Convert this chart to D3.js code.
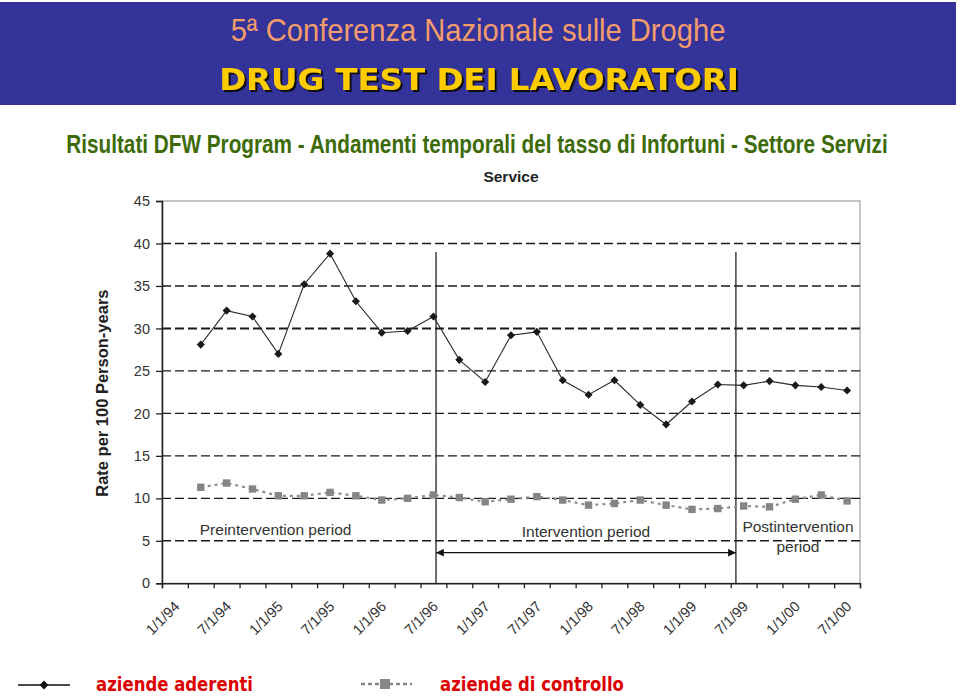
<!DOCTYPE html>
<html>
<head>
<meta charset="utf-8">
<script src="https://cdn.jsdelivr.net/npm/d3@7"></script>
<style>
  html, body { margin: 0; padding: 0; background: #ffffff; }
  svg { display: block; }
</style>
</head>
<body>
<svg id="chart" width="960" height="697"></svg>
<script>
// ---------- DATA ----------
const headerTitle = "5ª Conferenza Nazionale sulle Droghe";
const headerSubtitle = "DRUG TEST DEI LAVORATORI";
const pageTitle = "Risultati DFW Program - Andamenti temporali del tasso di Infortuni - Settore Servizi";
const chartTitle = "Service";
const yAxisTitle = "Rate per 100 Person-years";

// quarterly categories (27 quarters, 1/1/94 .. 7/1/00)
const quarters = ["1/1/94","4/1/94","7/1/94","10/1/94","1/1/95","4/1/95","7/1/95","10/1/95",
  "1/1/96","4/1/96","7/1/96","10/1/96","1/1/97","4/1/97","7/1/97","10/1/97",
  "1/1/98","4/1/98","7/1/98","10/1/98","1/1/99","4/1/99","7/1/99","10/1/99",
  "1/1/00","4/1/00","7/1/00"];
const xTickLabels = ["1/1/94","7/1/94","1/1/95","7/1/95","1/1/96","7/1/96","1/1/97",
  "7/1/97","1/1/98","7/1/98","1/1/99","7/1/99","1/1/00","7/1/00"];
const yTicks = [0,5,10,15,20,25,30,35,40,45];

// series start at 4/1/94
const seriesDates = quarters.slice(1);
const aderenti = [28.1,32.1,31.4,27.0,35.2,38.8,33.2,29.5,29.7,31.4,26.3,23.7,29.2,29.6,
  23.9,22.2,23.9,21.0,18.7,21.4,23.4,23.3,23.8,23.3,23.1,22.7];
const controllo = [11.3,11.8,11.1,10.3,10.3,10.7,10.3,9.8,10.0,10.4,10.1,9.6,9.9,10.2,
  9.8,9.2,9.4,9.8,9.2,8.7,8.8,9.1,9.0,9.9,10.4,9.7];

// period boundaries, expressed in quarter units
const periodBreaks = [10.6, 22.2];
const periodLabels = ["Preintervention period", "Intervention period", ["Postintervention", "period"]];
const legendLabels = ["aziende aderenti", "aziende di controllo"];

// ---------- DRAW ----------
const svg = d3.select("#chart");
const defs = svg.append("defs");

// helper: text fitted horizontally to a given width by scaling
function fittedText(parent, cx, baseline, width, str, attrs) {
  const g = parent.append("g");
  const t = g.append("text").attr("x", 0).attr("y", 0).attr("text-anchor", "middle").text(str);
  Object.entries(attrs).forEach(([k, v]) => t.attr(k, v));
  const len = t.node().getComputedTextLength();
  g.attr("transform", `translate(${cx},${baseline}) scale(${width / len},1)`);
  return t;
}

// header band
svg.append("rect").attr("x", 0).attr("y", 2).attr("width", 956).attr("height", 103)
  .attr("fill", "#333399");
fittedText(svg, 478, 41, 495, headerTitle, {
  "font-family": "'Liberation Sans Narrow','Liberation Sans',Arial,sans-serif",
  "font-size": 32, "fill": "#f59c6c"
});
const shadow = defs.append("filter").attr("id", "shadow").attr("x", "-5%").attr("y", "-20%")
  .attr("width", "110%").attr("height", "150%");
shadow.append("feDropShadow").attr("dx", 2).attr("dy", 2).attr("stdDeviation", 0.4)
  .attr("flood-color", "#111").attr("flood-opacity", 1);
fittedText(svg, 479, 90, 520, headerSubtitle, {
  "font-family": "'DejaVu Sans',sans-serif", "font-weight": "bold",
  "font-size": 31, "fill": "#ffcc00", "filter": "url(#shadow)"
});

// green page title
fittedText(svg, 477, 153, 822, pageTitle, {
  "font-family": "'Liberation Sans',Arial,sans-serif", "font-weight": "bold",
  "font-size": 26, "fill": "#3d6b0a"
});

// plot scales
const plot = { left: 162, right: 860, top: 201, bottom: 583.3 };
const x = d3.scaleLinear().domain([0, quarters.length]).range([plot.left, plot.right]);
const y = d3.scaleLinear().domain([0, 45]).range([plot.bottom, plot.top]);
const xc = d => x(quarters.indexOf(d) + 0.5);

const axisFont = "'Liberation Sans',Arial,Helvetica,sans-serif";

// chart title
svg.append("text").attr("x", (plot.left + plot.right) / 2).attr("y", 182)
  .attr("text-anchor", "middle").attr("font-family", axisFont).attr("font-weight", "bold")
  .attr("font-size", 15.5).attr("fill", "#222").text(chartTitle);

// plot area border (grey top/right)
svg.append("rect").attr("x", plot.left).attr("y", plot.top)
  .attr("width", plot.right - plot.left).attr("height", plot.bottom - plot.top)
  .attr("fill", "none").attr("stroke", "#a0a0a0").attr("stroke-width", 1.2);

// dashed gridlines
svg.append("g").selectAll("line").data(yTicks.filter(v => v > 0 && v < 45)).join("line")
  .attr("x1", plot.left).attr("x2", plot.right)
  .attr("y1", d => y(d)).attr("y2", d => y(d))
  .attr("stroke", "#1a1a1a").attr("stroke-width", d => d === 30 ? 2 : 1.4)
  .attr("stroke-dasharray", "9,4");

// y axis
const yAxis = d3.axisLeft(y).tickValues(yTicks).tickSize(6).tickPadding(6);
const gy = svg.append("g").attr("transform", `translate(${plot.left},0)`).call(yAxis);
gy.select(".domain").attr("stroke", "#222").attr("stroke-width", 1.5);
gy.selectAll(".tick line").attr("stroke", "#222").attr("stroke-width", 1.3);
gy.selectAll(".tick text").attr("font-family", axisFont).attr("font-size", 14.5).attr("fill", "#333");

// x axis (category boundary ticks)
const xAxis = d3.axisBottom(x).tickValues(d3.range(0, quarters.length + 1)).tickSize(5).tickFormat("");
const gx = svg.append("g").attr("transform", `translate(0,${plot.bottom})`).call(xAxis);
gx.select(".domain").attr("stroke", "#222").attr("stroke-width", 1.5);
gx.selectAll(".tick line").attr("stroke", "#222").attr("stroke-width", 1.3);

// x tick labels (rotated)
svg.append("g").selectAll("text").data(xTickLabels).join("text")
  .attr("transform", d => `translate(${xc(d) + 5.5},${plot.bottom + 24}) rotate(-45)`)
  .attr("text-anchor", "end").attr("font-family", axisFont).attr("font-size", 14.5)
  .attr("fill", "#333").text(d => d);

// y axis title
svg.append("text").attr("transform", `translate(108,${(plot.top + plot.bottom) / 2 + 1}) rotate(-90)`)
  .attr("text-anchor", "middle").attr("font-family", axisFont).attr("font-weight", "bold")
  .attr("font-size", 16.5).attr("fill", "#222").text(yAxisTitle);

// period boundary lines
svg.append("g").selectAll("line").data(periodBreaks).join("line")
  .attr("x1", d => x(d)).attr("x2", d => x(d))
  .attr("y1", y(39)).attr("y2", plot.bottom)
  .attr("stroke", "#222").attr("stroke-width", 1.3);

// double arrow across intervention period
defs.append("marker").attr("id", "arrow").attr("viewBox", "0 0 10 10")
  .attr("refX", 10).attr("refY", 5).attr("markerWidth", 6).attr("markerHeight", 6)
  .attr("orient", "auto-start-reverse")
  .append("path").attr("d", "M0,0 L10,5 L0,10 Z").attr("fill", "#111");
svg.append("line").attr("x1", x(periodBreaks[0])).attr("x2", x(periodBreaks[1]))
  .attr("y1", y(3.6)).attr("y2", y(3.6))
  .attr("stroke", "#111").attr("stroke-width", 1.3)
  .attr("marker-start", "url(#arrow)").attr("marker-end", "url(#arrow)");

// period labels
const lblStyle = sel => sel.attr("font-family", axisFont).attr("font-size", 15.5).attr("fill", "#333");
svg.append("text").attr("x", xc(seriesDates[0]) - 1).attr("y", y(5.65))
  .attr("text-anchor", "start").call(lblStyle).text(periodLabels[0]);
svg.append("text").attr("x", x((periodBreaks[0] + periodBreaks[1]) / 2)).attr("y", y(5.4))
  .attr("text-anchor", "middle").call(lblStyle).text(periodLabels[1]);
const postX = x((periodBreaks[1] + quarters.length) / 2);
svg.append("text").attr("x", postX).attr("y", y(6.05)).attr("text-anchor", "middle")
  .call(lblStyle).text(periodLabels[2][0]);
svg.append("text").attr("x", postX).attr("y", y(3.7)).attr("text-anchor", "middle")
  .call(lblStyle).text(periodLabels[2][1]);

// control series (grey dotted, squares)
const line = d3.line().x((d, i) => xc(seriesDates[i])).y(d => y(d));
svg.append("path").datum(controllo).attr("d", line)
  .attr("fill", "none").attr("stroke", "#8c8c8c").attr("stroke-width", 2.2)
  .attr("stroke-dasharray", "3,4");
svg.append("g").selectAll("rect").data(controllo).join("rect")
  .attr("x", (d, i) => xc(seriesDates[i]) - 3.7).attr("y", d => y(d) - 3.7)
  .attr("width", 7.4).attr("height", 7.4).attr("fill", "#858585");

// adherent series (black, diamonds)
svg.append("path").datum(aderenti).attr("d", line)
  .attr("fill", "none").attr("stroke", "#2a2a2a").attr("stroke-width", 1.1);
const diamond = d3.symbol().type(d3.symbolDiamond2).size(42);
svg.append("g").selectAll("path").data(aderenti).join("path")
  .attr("transform", (d, i) => `translate(${xc(seriesDates[i])},${y(d)})`)
  .attr("d", diamond).attr("fill", "#1a1a1a");

// legend
const legFont = "'Comic Sans MS','DejaVu Sans',sans-serif";
const lg = svg.append("g");
lg.append("line").attr("x1", 18).attr("x2", 70).attr("y1", 685).attr("y2", 685)
  .attr("stroke", "#111").attr("stroke-width", 1.6);
lg.append("path").attr("transform", "translate(44,685)").attr("d", d3.symbol().type(d3.symbolDiamond2).size(50))
  .attr("fill", "#111");
fittedText(lg, 96 + 157 / 2, 691, 157, legendLabels[0], {
  "font-family": legFont, "font-weight": "bold", "font-size": 19, "fill": "#dd0000"
});
lg.append("line").attr("x1", 361).attr("x2", 412).attr("y1", 684).attr("y2", 684)
  .attr("stroke", "#888").attr("stroke-width", 2.5).attr("stroke-dasharray", "4,3");
lg.append("rect").attr("x", 380).attr("y", 679).attr("width", 10).attr("height", 10).attr("fill", "#888");
fittedText(lg, 440 + 184 / 2, 691, 184, legendLabels[1], {
  "font-family": legFont, "font-weight": "bold", "font-size": 19, "fill": "#dd0000"
});
</script>
</body>
</html>
